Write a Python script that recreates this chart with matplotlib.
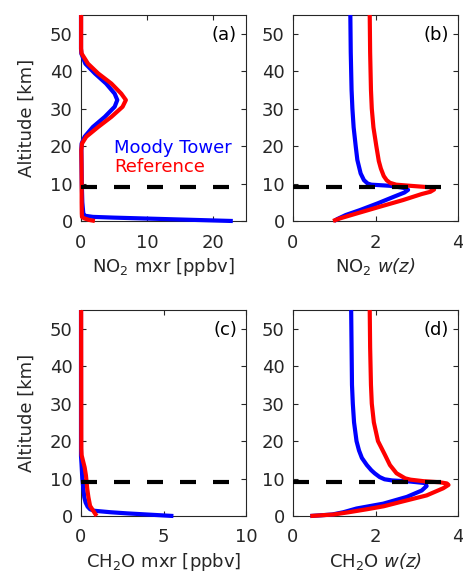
import matplotlib
matplotlib.use("Agg")
import matplotlib.pyplot as plt

plt.rcParams['font.family'] = ['DejaVu Sans']
plt.rcParams['mathtext.fontset'] = 'custom'
plt.rcParams['mathtext.rm'] = 'DejaVu Sans'
plt.rcParams['mathtext.it'] = 'DejaVu Sans:italic'
plt.rcParams['mathtext.bf'] = 'DejaVu Sans:bold'
plt.rcParams['mathtext.sf'] = 'DejaVu Sans:italic'

# ---------------- data ----------------
# (a) NO2 mixing ratio [ppbv]
alt_no2_mxr_mt = [0.0, 0.3, 0.6, 0.9, 1.1, 1.4, 2.0, 5.0, 10.0, 15.0, 19.0, 20.7, 22.5, 25.1,
                  27.8, 30.5, 32.3, 34.0, 36.7, 39.4, 42.0, 44.7, 46.0, 50.0, 55.0]
no2_mxr_mt = [23.0, 17.0, 11.0, 5.0, 1.8, 0.6, 0.35, 0.2, 0.12, 0.08, 0.05, 0.1, 0.55, 1.8,
              3.6, 5.1, 5.5, 5.1, 3.8, 2.1, 0.66, 0.05, 0.0, 0.0, 0.0]
alt_no2_mxr_ref = [0.0, 0.3, 0.7, 1.1, 2.0, 5.0, 10.0, 15.0, 18.9, 20.7, 22.5, 25.1,
                   27.8, 30.5, 32.3, 34.0, 36.7, 39.4, 42.0, 44.7, 46.0, 50.0, 55.0]
no2_mxr_ref = [2.1, 1.2, 0.5, 0.15, 0.12, 0.1, 0.1, 0.08, 0.05, 0.15, 0.8, 2.6,
               4.6, 6.3, 6.8, 6.1, 4.6, 2.6, 1.06, 0.1, 0.02, 0.02, 0.02]

# (b) NO2 scattering weight w(z)
alt_no2_w_mt = [0.0, 0.5, 1.6, 2.9, 4.7, 6.5, 7.6, 8.3, 8.7, 9.0, 9.4, 9.7, 10.0, 10.9,
                12.7, 16.3, 20.0, 25.0, 30.0, 35.0, 45.0, 55.0]
no2_w_mt = [1.0, 1.07, 1.28, 1.62, 2.05, 2.45, 2.70, 2.79, 2.75, 2.6, 2.35, 1.90, 1.81, 1.72,
            1.64, 1.56, 1.52, 1.47, 1.44, 1.42, 1.40, 1.39]
alt_no2_w_ref = [0.0, 0.7, 2.0, 3.8, 5.6, 7.2, 7.8, 8.4, 9.0, 9.4, 9.7, 10.2, 10.9, 12.0,
                 14.0, 16.0, 20.0, 25.0, 30.0, 35.0, 45.0, 55.0]
no2_w_ref = [0.97, 1.14, 1.54, 2.1, 2.67, 3.12, 3.33, 3.42, 3.32, 2.84, 2.5, 2.35, 2.27, 2.20,
             2.13, 2.08, 2.02, 1.95, 1.91, 1.89, 1.87, 1.86]

# (c) CH2O mixing ratio [ppbv]
alt_ch2o_mxr_mt = [0.0, 0.35, 0.7, 1.0, 1.4, 1.8, 2.5, 3.6, 5.0, 7.0, 10.0, 14.0, 16.0, 55.0]
ch2o_mxr_mt = [5.6, 4.2, 2.8, 1.8, 0.8, 0.55, 0.4, 0.28, 0.2, 0.15, 0.08, 0.03, 0.0, 0.0]
alt_ch2o_mxr_ref = [0.0, 1.0, 2.7, 5.0, 7.2, 10.8, 13.0, 14.4, 16.2, 18.0, 55.0]
ch2o_mxr_ref = [0.95, 0.8, 0.55, 0.45, 0.38, 0.3, 0.22, 0.14, 0.04, 0.02, 0.01]

# (d) CH2O scattering weight w(z)
alt_ch2o_w_mt = [0.0, 0.4, 1.0, 2.0, 3.3, 5.1, 6.8, 8.0, 8.8, 9.2, 9.5, 9.8, 10.4, 11.4,
                 12.2, 13.6, 15.5, 17.5, 20.0, 25.0, 30.0, 35.0, 45.0, 55.0]
ch2o_w_mt = [0.42, 0.95, 1.22, 1.54, 2.19, 2.76, 3.12, 3.24, 3.2, 2.84, 2.40, 2.22, 2.10, 1.98,
             1.90, 1.79, 1.67, 1.60, 1.54, 1.48, 1.45, 1.43, 1.42, 1.41]
alt_ch2o_w_ref = [0.0, 0.4, 1.0, 1.8, 2.6, 3.7, 5.5, 7.4, 8.3, 8.7, 9.0, 9.3, 9.7, 10.05,
                  11.4, 13.6, 16.3, 20.0, 25.0, 30.0, 35.0, 45.0, 55.0]
ch2o_w_ref = [0.42, 0.98, 1.35, 1.79, 2.2, 2.59, 3.24, 3.64, 3.77, 3.73, 3.56, 3.16, 2.85, 2.72,
              2.51, 2.35, 2.23, 2.06, 1.96, 1.91, 1.89, 1.87, 1.86]

tropopause_km = 9.0
panel_labels = ['(a)', '(b)', '(c)', '(d)']
xlabels = ['NO$_2$ mxr [ppbv]', r'NO$_2$ $\mathsf{w(z)}$',
           'CH$_2$O mxr [ppbv]', r'CH$_2$O $\mathsf{w(z)}$']
xlims = [(0, 25), (0, 4), (0, 10), (0, 4)]
xticks = [[0, 10, 20], [0, 2, 4], [0, 5, 10], [0, 2, 4]]
yticks = [0, 10, 20, 30, 40, 50]
legend_names = ['Moody Tower', 'Reference']

series = [
    (alt_no2_mxr_mt, no2_mxr_mt, alt_no2_mxr_ref, no2_mxr_ref),
    (alt_no2_w_mt, no2_w_mt, alt_no2_w_ref, no2_w_ref),
    (alt_ch2o_mxr_mt, ch2o_mxr_mt, alt_ch2o_mxr_ref, ch2o_mxr_ref),
    (alt_ch2o_w_mt, ch2o_w_mt, alt_ch2o_w_ref, ch2o_w_ref),
]

# ---------------- figure ----------------
W, H = 463, 580
fig = plt.figure(figsize=(W / 100, H / 100), dpi=100)
gray = '#262626'
positions = [
    [81 / W, 1 - 221 / H, 165 / W, 206 / H],
    [293 / W, 1 - 221 / H, 165 / W, 206 / H],
    [81 / W, 1 - 516 / H, 165 / W, 206 / H],
    [293 / W, 1 - 516 / H, 165 / W, 206 / H],
]

for i, pos in enumerate(positions):
    ax = fig.add_axes(pos)
    za, xa, zr, xr = series[i]
    ax.plot(xa, za, color=(0, 0, 1), lw=3, solid_capstyle='butt', solid_joinstyle='round',
            clip_on=False, zorder=3)
    ax.plot(xr, zr, color=(1, 0, 0), lw=3, solid_capstyle='butt', solid_joinstyle='round',
            clip_on=False, zorder=4)
    ax.axhline(tropopause_km, color='k', lw=3, linestyle=(0, (3.84, 4.08)),
               dash_capstyle='butt', zorder=5)
    ax.set_xlim(*xlims[i])
    ax.set_ylim(0, 55)
    ax.set_xticks(xticks[i])
    ax.set_yticks(yticks)
    for s in ax.spines.values():
        s.set_color(gray)
        s.set_linewidth(0.8)
    ax.tick_params(direction='in', length=3.5, width=0.8, colors=gray, labelsize=13,
                   top=True, right=True, labelcolor=gray)
    ax.tick_params(axis='x', pad=9)
    ax.tick_params(axis='y', pad=6)
    ax.set_xlabel(xlabels[i], fontsize=13, color=gray, labelpad=3)
    if i % 2 == 0:
        ax.set_ylabel('Altitude [km]', fontsize=13, color=gray, labelpad=10)
    ax.text(0.945, 0.903, panel_labels[i], transform=ax.transAxes, ha='right', va='center',
            fontsize=13, color='k')
    if i == 0:
        ax.text(0.2, 0.33, legend_names[0], transform=ax.transAxes, ha='left',
                va='baseline', fontsize=13, color=(0, 0, 1))
        ax.text(0.2, 0.239, legend_names[1], transform=ax.transAxes, ha='left',
                va='baseline', fontsize=13, color=(1, 0, 0))

fig.savefig('out.png', dpi=100)
